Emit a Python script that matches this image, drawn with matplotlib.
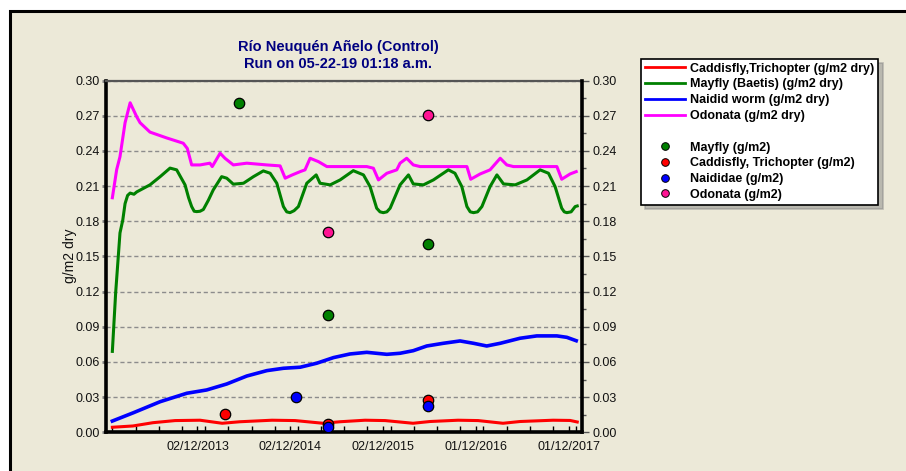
import matplotlib
matplotlib.use("Agg")
import matplotlib.pyplot as plt
from matplotlib.lines import Line2D
from matplotlib.patches import Rectangle
from matplotlib.ticker import MultipleLocator, FixedLocator

plt.rcParams['font.family'] = ['Liberation Sans', 'DejaVu Sans']

# ---------------- data (simulation day, g/m2 dry) ----------------
caddis_day = [0, 81, 160, 247, 345, 432, 502, 628, 719, 829, 896, 994, 1073, 1183,
              1250, 1360, 1439, 1537, 1604, 1734, 1801, 1829]
caddis_val = [0.0043, 0.0054, 0.0082, 0.0100, 0.0103, 0.0077, 0.0090, 0.0103, 0.0100,
              0.0077, 0.0090, 0.0103, 0.0100, 0.0077, 0.0092, 0.0103, 0.0100, 0.0077,
              0.0092, 0.0103, 0.0101, 0.0088]

mayfly_day = [0, 13, 30, 41, 50, 60, 70, 85, 96, 148, 188, 227, 253, 286, 300, 312, 322,
              332, 345, 358, 378, 397, 430, 450, 476, 516, 555, 594, 621, 647, 673, 686,
              699, 715, 732, 765, 802, 817, 857, 896, 948, 988, 1014, 1040, 1053, 1066,
              1080, 1093, 1132, 1165, 1184, 1224, 1263, 1322, 1348, 1375, 1395, 1408,
              1421, 1437, 1454, 1486, 1513, 1539, 1585, 1631, 1683, 1716, 1742, 1768,
              1778, 1788, 1805, 1821, 1829]
mayfly_val = [0.069, 0.119, 0.170, 0.181, 0.195, 0.202, 0.204, 0.203, 0.205, 0.211,
              0.218, 0.2253, 0.2238, 0.211, 0.200, 0.1925, 0.1885, 0.1882, 0.1885,
              0.190, 0.198, 0.2067, 0.218, 0.2167, 0.2116, 0.2124, 0.218, 0.2229,
              0.2209, 0.2124, 0.1925, 0.188, 0.1873, 0.189, 0.1925, 0.2124, 0.2195,
              0.2124, 0.211, 0.2152, 0.2231, 0.2195, 0.2095, 0.1911, 0.188, 0.1873,
              0.188, 0.1911, 0.211, 0.2195, 0.2118, 0.211, 0.2152, 0.2238, 0.2209,
              0.2095, 0.1925, 0.188, 0.1873, 0.188, 0.1925, 0.2095, 0.2195, 0.2118,
              0.211, 0.2152, 0.2238, 0.2209, 0.2095, 0.1911, 0.188, 0.1873, 0.188,
              0.1925, 0.193]

naidid_day = [0, 83, 188, 293, 371, 450, 529, 608, 673, 739, 804, 870, 935, 1001, 1080,
              1132, 1184, 1237, 1302, 1368, 1421, 1473, 1526, 1604, 1670, 1749, 1788, 1825]
naidid_val = [0.0096, 0.0167, 0.0261, 0.0333, 0.0361, 0.0412, 0.0480, 0.0526, 0.0546,
              0.0555, 0.0589, 0.0637, 0.0668, 0.0682, 0.0665, 0.0674, 0.0696, 0.0736,
              0.0759, 0.0779, 0.0759, 0.0736, 0.0759, 0.0802, 0.0822, 0.0822, 0.0810,
              0.0781]

odonata_day = [0, 17, 30, 50, 70, 83, 96, 109, 148, 214, 279, 295, 312, 345, 384, 393,
               424, 443, 476, 529, 608, 660, 680, 708, 739, 758, 778, 811, 844, 1001,
               1027, 1047, 1080, 1119, 1132, 1158, 1184, 1211, 1395, 1410, 1447, 1486,
               1526, 1552, 1578, 1749, 1768, 1801, 1825]
odonata_val = [0.200, 0.224, 0.235, 0.264, 0.281, 0.275, 0.269, 0.264, 0.256, 0.251,
               0.2465, 0.242, 0.228, 0.228, 0.2295, 0.2266, 0.238, 0.2337, 0.228,
               0.2295, 0.228, 0.2272, 0.2167, 0.2195, 0.2223, 0.2238, 0.2337, 0.2308,
               0.2266, 0.2266, 0.2252, 0.2152, 0.2209, 0.2238, 0.2295, 0.2337, 0.228,
               0.2266, 0.2266, 0.2158, 0.2203, 0.2238, 0.2337, 0.228, 0.2266, 0.2266,
               0.2158, 0.2203, 0.2223]

# observations (g/m2)
obs_mayfly_day = [500, 850, 1240]
obs_mayfly_val = [0.281, 0.100, 0.161]
obs_caddis_day = [443, 850, 1240]
obs_caddis_val = [0.0153, 0.0071, 0.0276]
obs_naid_day = [722, 850, 1240]
obs_naid_val = [0.0304, 0.0043, 0.0227]
obs_odon_day = [850, 1240]
obs_odon_val = [0.171, 0.2707]

tick_days = [335, 700, 1065, 1430, 1795]
tick_labels = ["02/12/2013", "02/12/2014", "02/12/2015", "01/12/2016", "01/12/2017"]

title_lines = ["Río Neuquén Añelo (Control)", "Run on 05-22-19 01:18 a.m."]
ylabel = "g/m2 dry"

# ---------------- figure ----------------
BG = '#ECE9D8'
W, H = 906, 471
fig = plt.figure(figsize=(W / 100, H / 100), dpi=100)
fig.patch.set_facecolor('white')
fig.add_artist(Rectangle((10 / W, -0.05), 1.0, 1 - 11 / H + 0.05, transform=fig.transFigure,
                         facecolor=BG, edgecolor='black', lw=2.2, zorder=0))

ax_l, ax_r, ax_t, ax_b = 106, 582.3, 80.5, 432.3
ax = fig.add_axes([ax_l / W, 1 - ax_b / H, (ax_r - ax_l) / W, (ax_b - ax_t) / H])
ax.set_facecolor(BG)

ax.plot(caddis_day, caddis_val, color='#FF0000', lw=2.2, zorder=3)
ax.plot(mayfly_day, mayfly_val, color='#008000', lw=2.2, zorder=3)
ax.plot(naidid_day, naidid_val, color='#0000FF', lw=2.6, zorder=3)
ax.plot(odonata_day, odonata_val, color='#FF00FF', lw=2.2, zorder=3)

mk = dict(marker='o', ls='none', ms=7.5, mec='black', mew=0.9, zorder=5)
ax.plot(obs_mayfly_day, obs_mayfly_val, mfc='#008000', **mk)
ax.plot(obs_caddis_day, obs_caddis_val, mfc='#FF0000', **mk)
ax.plot(obs_naid_day, obs_naid_val, mfc='#0000FF', **mk)
ax.plot(obs_odon_day, obs_odon_val, mfc='#FF1493', **mk)

ax.set_xlim(-25, 1849)
ax.set_ylim(0, 0.30)
ax.yaxis.set_major_locator(MultipleLocator(0.03))
ax.yaxis.set_major_formatter(matplotlib.ticker.FormatStrFormatter('%.2f'))
ax.grid(axis='y', color='#8c8c8c', ls=(0, (3, 2)), lw=1.0, zorder=1)

ax.xaxis.set_major_locator(FixedLocator(tick_days))
ax.set_xticklabels(tick_labels)
ax.xaxis.set_minor_locator(MultipleLocator(91.25))
ax.tick_params(axis='x', which='both', direction='in', length=4, width=1, color='black',
               labelsize=9, pad=6, labelcolor='#111111')
ax.tick_params(axis='y', which='major', direction='out', length=3, width=2, color='#7f7f7f',
               labelsize=9, pad=1.5, labelcolor='#111111')

for s in ['left', 'bottom']:
    ax.spines[s].set_linewidth(2.6)
    ax.spines[s].set_color('black')
ax.spines['right'].set_visible(False)
ax.spines['top'].set_color('#555555')
ax.spines['top'].set_linewidth(1.6)

axr = ax.twinx()
axr.set_ylim(0, 0.30)
axr.yaxis.set_major_locator(MultipleLocator(0.03))
axr.yaxis.set_minor_locator(MultipleLocator(0.015))
axr.yaxis.set_major_formatter(matplotlib.ticker.FormatStrFormatter('%.2f'))
axr.tick_params(axis='y', which='major', direction='out', length=5, width=1, color='#555555',
                labelsize=9, pad=2, labelcolor='#111111')
axr.tick_params(axis='y', which='minor', direction='out', length=3, width=1, color='#555555')
for s in ['left', 'bottom', 'top']:
    axr.spines[s].set_visible(False)
axr.spines['right'].set_linewidth(2.6)
axr.spines['right'].set_color('black')

ax.set_ylabel(ylabel, fontsize=10, color='#111111')
ax.yaxis.set_label_coords((77 - ax_l) / (ax_r - ax_l), (ax_b - 256) / (ax_b - ax_t))

fig.text(338 / W, 1 - 47 / H, title_lines[0], ha='center', va='center', fontsize=10.5,
         fontweight='bold', color='#000080')
fig.text(338 / W, 1 - 64 / H, title_lines[1], ha='center', va='center', fontsize=10.5,
         fontweight='bold', color='#000080')

handles = [
    Line2D([], [], color='#FF0000', lw=2),
    Line2D([], [], color='#008000', lw=2),
    Line2D([], [], color='#0000FF', lw=2),
    Line2D([], [], color='#FF00FF', lw=2),
    Line2D([], [], ls='none'),
    Line2D([], [], marker='o', ls='none', ms=5.5, mfc='#008000', mec='black', mew=0.7),
    Line2D([], [], marker='o', ls='none', ms=5.5, mfc='#FF0000', mec='black', mew=0.7),
    Line2D([], [], marker='o', ls='none', ms=5.5, mfc='#0000FF', mec='black', mew=0.7),
    Line2D([], [], marker='o', ls='none', ms=5.5, mfc='#FF1493', mec='black', mew=0.7),
]
labels = ["Caddisfly,Trichopter (g/m2 dry)", "Mayfly (Baetis) (g/m2 dry)",
          "Naidid worm (g/m2 dry)", "Odonata (g/m2 dry)", " ",
          "Mayfly (g/m2)", "Caddisfly, Trichopter (g/m2)", "Naididae (g/m2)",
          "Odonata (g/m2)"]
leg = fig.legend(handles, labels, loc='upper left', bbox_to_anchor=(641 / W, 1 - 59 / H),
                 frameon=True, fancybox=False, shadow={'ox': 3, 'oy': -3, 'color': '#888888'},
                 prop={'weight': 'bold', 'size': 9}, handlelength=3.2, handletextpad=0.45,
                 labelspacing=0.30, borderpad=0.3, borderaxespad=0)
leg.get_frame().set_edgecolor('black')
leg.get_frame().set_linewidth(1.2)
leg.get_frame().set_facecolor('white')

fig.savefig('out.png', dpi=100, facecolor=fig.get_facecolor())
